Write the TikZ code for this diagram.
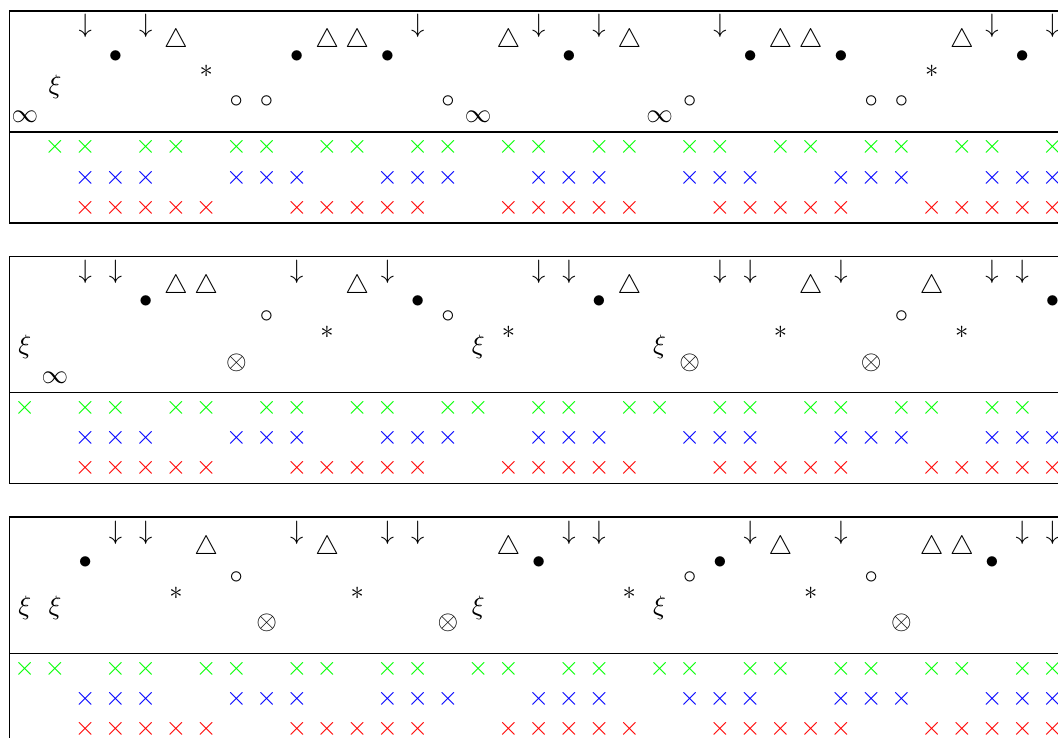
\documentclass[tikz,border=0pt]{standalone}
\usepackage{tikz}
\usepackage{amsmath, amssymb}

\begin{document}
\begin{tikzpicture}[
  symb/.style={inner sep=1pt},
  xmark/.style={inner sep=1pt},
  frame/.style={draw, line width=0.6pt}
]
  \useasboundingbox (-0.128, 0) rectangle (13.872, -9.765);
  \clip (-0.128, 0) rectangle (13.872, -9.765);
  % panel / height of the dividing line / phase of the green row / levels
  \foreach \p/\dv/\ph/\nl in {1/-1.747/0/7, 2/-5.196/1/8, 3/-8.645/2/8} {
    \draw[frame] (0, \dv-1.2) rectangle (14, \dv+0.2*\nl+0.2);
    \draw[frame] (0, \dv) -- (14, \dv);
    \foreach \k in {0,...,34} {
      \pgfmathtruncatemacro\gon{ifthenelse(mod(\k+3-\ph,3)==0,0,1)}
      \pgfmathtruncatemacro\bon{ifthenelse(mod(\k,5)>1,1,0)}
      \pgfmathtruncatemacro\ron{ifthenelse(mod(\k,7)>1,1,0)}
      \pgfmathtruncatemacro\code{\gon+2*\bon+4*\ron}
      \ifnum\p=1
        \edef\lev{\ifcase\code\space 1\or 3\or 2\or 2\or 4\or 6\or 5\or 7\fi}
      \else
        \edef\lev{\ifcase\code\space 1\or 3\or 2\or 5\or 4\or 7\or 6\or 8\fi}
      \fi
      \node[symb] (s\p-\k) at (0.2+0.4*\k, \dv+0.2*\lev)
        {\ifcase\code\space $\infty$\or $\xi$\or $\otimes$\or $\circ$\or $*$\or $\triangle$\or $\bullet$\or $\downarrow$\fi};
      \ifnum\gon=1 \node[xmark, green] (g\p-\k) at (0.2+0.4*\k, \dv-0.2) {$\times$}; \fi
      \ifnum\bon=1 \node[xmark, blue] (b\p-\k) at (0.2+0.4*\k, \dv-0.6) {$\times$}; \fi
      \ifnum\ron=1 \node[xmark, red] (r\p-\k) at (0.2+0.4*\k, \dv-1.0) {$\times$}; \fi
    }
  }
\end{tikzpicture}
\end{document}
